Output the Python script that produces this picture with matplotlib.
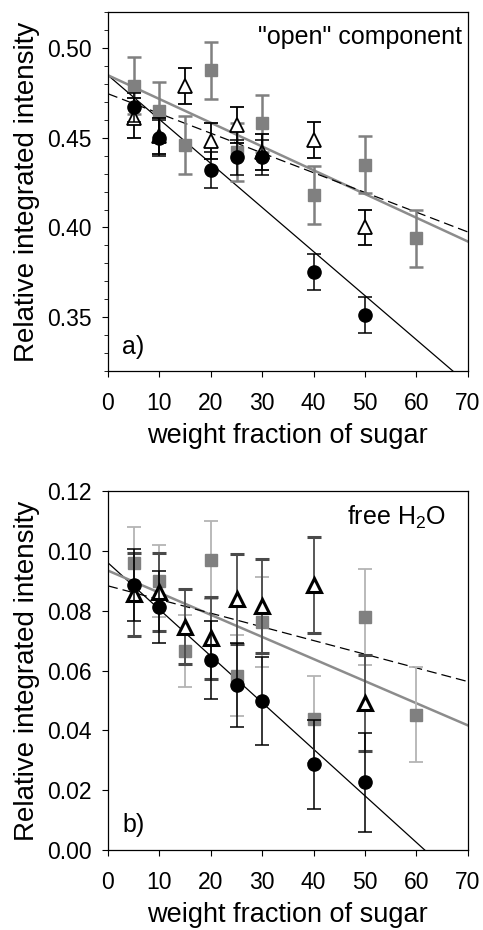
import numpy as np
import matplotlib
matplotlib.use("Agg")
import matplotlib.pyplot as plt
from matplotlib.ticker import MultipleLocator, FormatStrFormatter

plt.rcParams['font.family'] = ['Liberation Sans', 'DejaVu Sans']
plt.rcParams['mathtext.default'] = 'regular'

# ---- panel a) "open" component ----
a_circ_x = [5, 10, 20, 25, 30, 40, 50]
a_circ_y = [0.467, 0.450, 0.432, 0.439, 0.439, 0.375, 0.351]
a_circ_e = [0.008, 0.010, 0.010, 0.010, 0.010, 0.010, 0.010]

a_tri_x = [5, 10, 15, 20, 25, 30, 40, 50]
a_tri_y = [0.461, 0.451, 0.479, 0.448, 0.457, 0.442, 0.4485, 0.400]
a_tri_e = [0.011, 0.010, 0.010, 0.010, 0.010, 0.010, 0.010, 0.010]

a_sq_x = [5, 10, 15, 20, 25, 30, 40, 50, 60]
a_sq_y = [0.479, 0.465, 0.446, 0.4875, 0.442, 0.458, 0.418, 0.435, 0.394]
a_sq_e = [0.016, 0.016, 0.016, 0.016, 0.016, 0.016, 0.016, 0.016, 0.016]

# linear fits: intercept, slope (black solid, gray solid, dashed)
a_fit_int = [0.4848, 0.4848, 0.4745]
a_fit_slope = [-0.002456, -0.001323, -0.0011]

# ---- panel b) free H2O ----
b_circ_x = [5, 10, 20, 25, 30, 40, 50]
b_circ_y = [0.0885, 0.0813, 0.0634, 0.0552, 0.0497, 0.0286, 0.0226]
b_circ_e = [0.012, 0.012, 0.013, 0.014, 0.0147, 0.015, 0.0166]

b_tri_x = [5, 10, 15, 20, 25, 30, 40, 50]
b_tri_y = [0.0855, 0.0863, 0.0746, 0.0709, 0.0838, 0.0816, 0.0885, 0.0492]
b_tri_e = [0.0138, 0.013, 0.0125, 0.0137, 0.015, 0.0157, 0.016, 0.016]

b_sq_x = [5, 10, 15, 20, 25, 30, 40, 50, 60]
b_sq_y = [0.096, 0.090, 0.0665, 0.097, 0.0583, 0.0762, 0.0437, 0.078, 0.0453]
b_sq_e = [0.012, 0.012, 0.012, 0.013, 0.0135, 0.015, 0.0145, 0.016, 0.016]

b_fit_int = [0.096, 0.0934, 0.0883]
b_fit_slope = [-0.001558, -0.000739, -0.000457]

x_ticks = [0, 10, 20, 30, 40, 50, 60, 70]

fig = plt.figure(figsize=(4.83, 9.30), dpi=100)
ax1 = fig.add_axes([0.2236, 0.601, 0.745, 0.386])
ax2 = fig.add_axes([0.2236, 0.086, 0.745, 0.386])


def draw_panel(ax, circ, tri, sq, fit_int, fit_slope, sq_ecol, tri_ecol,
               tri_lw, elw):
    xx = np.array([0, 70])
    styles = [dict(color='black', lw=0.9, ls='-'),
              dict(color='#8c8c8c', lw=1.8, ls='-'),
              dict(color='black', lw=0.9, ls=(0, (8, 4)))]
    for b0, b1, st in zip(fit_int, fit_slope, styles):
        ax.plot(xx, b0 + b1 * xx, zorder=2, **st)

    ax.errorbar(sq[0], sq[1], yerr=sq[2], fmt='s', color='#808080', ms=8.5,
                mec='#808080', ecolor=sq_ecol, elinewidth=elw[0], capsize=5,
                capthick=elw[0], zorder=3)
    ax.errorbar(tri[0], tri[1], yerr=tri[2], fmt='^', mfc='white', mec='black',
                mew=tri_lw, ms=10.5, ecolor=tri_ecol, elinewidth=elw[1],
                capsize=5, capthick=elw[1], zorder=4)
    ax.errorbar(circ[0], circ[1], yerr=circ[2], fmt='o', color='black', ms=9.5,
                ecolor='black', elinewidth=1.1, capsize=5, capthick=1.1, zorder=5)

    ax.set_xlim(0, 70)
    ax.set_xticks(x_ticks)
    ax.tick_params(axis='both', direction='out', labelsize=16.5, length=4)
    ax.tick_params(axis='x', pad=11)
    ax.tick_params(axis='y', pad=8)
    ax.tick_params(which='minor', direction='out', length=3)
    ax.set_xlabel('weight fraction of sugar', fontsize=19.5, labelpad=6)
    ax.set_ylabel('Relative integrated intensity', fontsize=20, labelpad=5)
    for sp in ax.spines.values():
        sp.set_linewidth(0.9)


draw_panel(ax1, (a_circ_x, a_circ_y, a_circ_e), (a_tri_x, a_tri_y, a_tri_e),
           (a_sq_x, a_sq_y, a_sq_e), a_fit_int, a_fit_slope,
           '#808080', 'black', 1.3, (1.8, 1.3))
ax1.set_ylim(0.32, 0.52)
ax1.set_yticks([0.35, 0.40, 0.45, 0.50])
ax1.yaxis.set_major_formatter(FormatStrFormatter('%.2f'))
ax1.yaxis.set_minor_locator(MultipleLocator(0.01))
ax1.text(0.985, 0.965, '"open" component', transform=ax1.transAxes,
         ha='right', va='top', fontsize=18)
ax1.text(0.04, 0.035, 'a)', transform=ax1.transAxes, ha='left', va='bottom',
         fontsize=18)

draw_panel(ax2, (b_circ_x, b_circ_y, b_circ_e), (b_tri_x, b_tri_y, b_tri_e),
           (b_sq_x, b_sq_y, b_sq_e), b_fit_int, b_fit_slope,
           '#b4b4b4', '#4a4a4a', 2.2, (1.3, 1.3))
ax2.set_ylim(0, 0.12)
ax2.set_yticks([0.00, 0.02, 0.04, 0.06, 0.08, 0.10, 0.12])
ax2.yaxis.set_major_formatter(FormatStrFormatter('%.2f'))
ax2.text(0.94, 0.965, 'free H$_2$O', transform=ax2.transAxes,
         ha='right', va='top', fontsize=18)
ax2.text(0.04, 0.035, 'b)', transform=ax2.transAxes, ha='left', va='bottom',
         fontsize=18)

fig.savefig('out.png', dpi=100)
